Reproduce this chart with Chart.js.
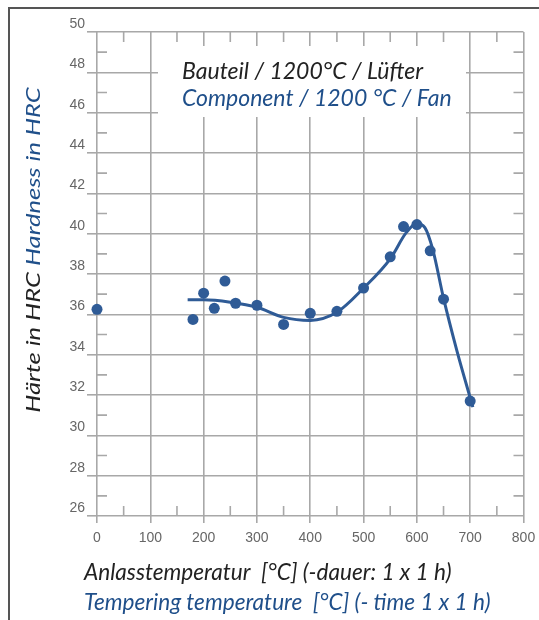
<!DOCTYPE html>
<html>
<head>
<meta charset="utf-8">
<script src="https://cdn.jsdelivr.net/npm/chart.js@4"></script>
<style>
  html, body { margin: 0; padding: 0; background: #fff; }
  #wrap { width: 539px; height: 620px; }
</style>
</head>
<body>
<div id="wrap"><canvas id="hardnessChart" width="539" height="620"></canvas></div>
<script>
// measured points: tempering temperature (°C) vs hardness (HRC)
const tempPoints = [0, 180, 200, 220, 240, 260, 300, 350, 400, 450, 500, 550, 575, 600, 625, 650, 700];
const hrcPoints = [36.25, 35.75, 37.05, 36.3, 37.65, 36.55, 36.45, 35.5, 36.05, 36.15, 37.3, 38.85, 40.35, 40.45, 39.15, 36.75, 31.7];

// fitted curve
const tempCurve = [170, 200, 250, 300, 350, 400, 450, 500, 550, 580, 600, 615, 630, 650, 675, 705];
const hrcCurve = [36.72, 36.72, 36.6, 36.35, 35.85, 35.7, 36.1, 37.3, 38.75, 40.05, 40.5, 40.3, 39.2, 36.8, 34.2, 31.4];

const xTicks = [0, 100, 200, 300, 400, 500, 600, 700, 800];
const yTicks = [26, 28, 30, 32, 34, 36, 38, 40, 42, 44, 46, 48, 50];

const blue = '#2f5b96';
const textBlue = '#1f4f8a';
const gridColor = '#a8a8a8';

function toXY(xs, ys) {
  return xs.map((x, i) => ({ x: x, y: ys[i] }));
}

const decorPlugin = {
  id: 'decor',
  beforeDatasetsDraw(chart) {
    const c = chart.ctx;
    const xs = chart.scales.x;
    const ys = chart.scales.y;
    const a = chart.chartArea;
    c.save();
    c.strokeStyle = gridColor;
    c.lineWidth = 1.6;
    // minor ticks
    for (let v = 50; v < 800; v += 100) {
      const px = xs.getPixelForValue(v);
      c.beginPath();
      c.moveTo(px, a.bottom); c.lineTo(px, a.bottom - 10);
      c.moveTo(px, a.top); c.lineTo(px, a.top + 10);
      c.stroke();
    }
    for (let v = 27; v < 50; v += 2) {
      const py = ys.getPixelForValue(v);
      c.beginPath();
      c.moveTo(a.left, py); c.lineTo(a.left + 10, py);
      c.moveTo(a.right, py); c.lineTo(a.right - 10, py);
      c.stroke();
    }
    // white box behind the header text
    c.fillStyle = '#fff';
    c.fillRect(158, 46, 308, 71);
    c.font = 'italic 23px Lato';
    c.textBaseline = 'middle';
    c.textAlign = 'left';
    c.fillStyle = '#222';
    c.fillText('Bauteil / 1200°C / Lüfter', 182, 72);
    c.fillStyle = textBlue;
    c.fillText('Component / 1200 °C / Fan', 182, 99);

    // x axis title
    c.font = 'italic 22.6px Lato';
    c.fillStyle = '#222';
    c.fillText('Anlasstemperatur  [°C] (-dauer: 1 x 1 h)', 84, 573);
    c.fillStyle = textBlue;
    c.fillText('Tempering temperature  [°C] (- time 1 x 1 h)', 84, 603);

    // y axis title, rotated (stretched along its length like the original)
    c.translate(34, 250);
    c.rotate(-Math.PI / 2);
    c.scale(1.38, 1);
    c.font = 'italic 18.5px Lato';
    const t1 = 'Härte in HRC ';
    const t2 = 'Hardness in HRC';
    const w = c.measureText(t1 + t2).width;
    c.fillStyle = '#222';
    c.fillText(t1, -w / 2, 0);
    c.fillStyle = textBlue;
    c.fillText(t2, -w / 2 + c.measureText(t1).width, 0);
    c.restore();

    // outer frame
    c.save();
    c.strokeStyle = '#555';
    c.lineWidth = 2;
    c.beginPath();
    c.moveTo(9, 620); c.lineTo(9, 8); c.lineTo(539, 8);
    c.stroke();
    c.restore();
  }
};

const ctx = document.getElementById('hardnessChart').getContext('2d');
const hardnessChart = new Chart(ctx, {
  type: 'scatter',
  data: {
    datasets: [
      {
        label: 'Curve',
        data: toXY(tempCurve, hrcCurve),
        showLine: true,
        borderColor: blue,
        borderWidth: 3,
        pointRadius: 0,
        tension: 0.4,
        cubicInterpolationMode: 'monotone',
        order: 2
      },
      {
        label: 'Hardness',
        data: toXY(tempPoints, hrcPoints),
        showLine: false,
        backgroundColor: blue,
        borderColor: blue,
        pointRadius: 5.5,
        pointBorderWidth: 0,
        clip: false,
        order: 1
      }
    ]
  },
  options: {
    responsive: false,
    animation: false,
    layout: { padding: { left: 0, top: 32, right: 15.5, bottom: 0 } },
    plugins: {
      legend: { display: false },
      tooltip: { enabled: false }
    },
    scales: {
      x: {
        type: 'linear',
        min: xTicks[0],
        max: xTicks[xTicks.length - 1],
        afterBuildTicks: (s) => { s.ticks = xTicks.map(v => ({ value: v })); },
        afterFit: (s) => { s.height = 104; s.paddingLeft = 0; s.paddingRight = 0; },
        ticks: {
          color: '#666',
          font: { family: 'Liberation Sans', size: 14 },
          padding: 7,
          maxRotation: 0
        },
        grid: { color: gridColor, lineWidth: 1.6, tickLength: 7 },
        border: { display: false }
      },
      y: {
        type: 'linear',
        min: yTicks[0],
        max: yTicks[yTicks.length - 1],
        afterBuildTicks: (s) => { s.ticks = yTicks.map(v => ({ value: v })); },
        afterFit: (s) => { s.width = 97; },
        ticks: {
          color: '#666',
          font: { family: 'Liberation Sans', size: 14 },
          padding: 2,
          labelOffset: -8
        },
        grid: { color: gridColor, lineWidth: 1.6, tickLength: 10 },
        border: { display: false }
      }
    }
  },
  plugins: [decorPlugin]
});
</script>
</body>
</html>
